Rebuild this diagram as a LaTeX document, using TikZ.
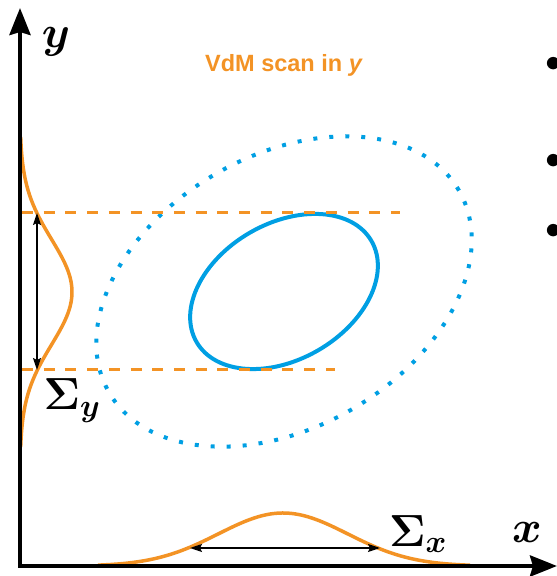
\RequirePackage{fix-cm}
\documentclass[tikz,border=0pt]{standalone}
\usepackage{fontspec}
\usepackage{bm}
\usepackage{tikz}
\usetikzlibrary{positioning,arrows.meta,calc}
\newfontfamily\vdmsans{Liberation Sans}
\definecolor{vdmOrange}{HTML}{F39325}
\definecolor{vdmBlue}{HTML}{009FE3}
\tikzset{
  vdm-axis/.style={
    line width=4pt, line join=miter,
    {Stealth[length=27pt,width=21pt,inset=3pt]}-{Stealth[length=27pt,width=21pt,inset=3pt]}
  },
  vdm-gauss/.style={draw=vdmOrange, line width=3.5pt},
  vdm-scan/.style={draw=vdmOrange, line width=3pt, dash pattern=on 11pt off 10.7pt},
  vdm-beam/.style={draw=vdmBlue, line width=4pt},
  vdm-halo/.style={draw=vdmBlue, line width=4pt, dash pattern=on 4pt off 12pt},
  vdm-width/.style={
    line width=1.6pt,
    {Stealth[length=12pt,width=8pt,inset=2pt]}-{Stealth[length=12pt,width=8pt,inset=2pt]}
  },
  vdm-math/.style={font=\fontsize{45}{54}\selectfont, inner sep=0pt},
  vdm-title/.style={font=\vdmsans\bfseries\fontsize{23.5}{28}\selectfont,
    text=vdmOrange, inner sep=0pt},
  vdm-bullet/.style={font=\fontsize{56}{64}\selectfont, inner sep=0pt}
}

\begin{document}
\begin{tikzpicture}[x=1pt, y=1pt]
\useasboundingbox (0,0) rectangle (557,576);
% --- Faisceau ---
\coordinate (beam) at (284,284.5);
\draw[vdm-halo, rotate around={30:(beam)}]
  (beam) ellipse [x radius=202pt, y radius=136pt];
\draw[vdm-beam, rotate around={30:(beam)}]
  (beam) ellipse [x radius=101pt, y radius=68pt];

% --- Scan ---
\coordinate (scan-top-l) at (22,363);
\coordinate (scan-top-r) at (400,363);
\coordinate (scan-bot-l) at (22,206);
\coordinate (scan-bot-r) at (335,206);
\draw[vdm-scan] (scan-top-l) -- (scan-top-r);
\draw[vdm-scan] (scan-bot-l) -- (scan-bot-r);
\node[vdm-title] (scan) at (284,511) {VdM scan in \textit{y}};

% --- Profils ---
\draw[vdm-gauss] plot[domain=-155:155, samples=120]
  ({20+52*exp(-0.5*(\x/52.7)^2)}, {284+\x});
\draw[vdm-gauss] plot[domain=-185:187, samples=120]
  ({283+\x}, {10+53*exp(-0.5*(\x/64.6)^2)});

% --- Largeurs ---
\coordinate (sy-top) at (37,363);
\coordinate (sy-bot) at (37,206);
\coordinate (sx-left) at (190,28);
\coordinate (sx-right) at (380,28);
\draw[vdm-width] (sy-top) -- (sy-bot);
\draw[vdm-width] (sx-left) -- (sx-right);
\node[vdm-math] (sigy) at (72,175) {$\bm{\Sigma_y}$};
\node[vdm-math] (sigx) at (418,42) {$\bm{\Sigma_x}$};

% --- Axes ---
\coordinate (origin) at (20,10);
\coordinate (ytip) at (20,568);
\coordinate (xtip) at (557,10);
\draw[vdm-axis] (ytip) -- (origin) -- (xtip);
\node[vdm-math] (ylab) at (56,534) {$\bm{y}$};
\node[vdm-math] (xlab) at (527,43) {$\bm{x}$};

% --- Puces ---
\foreach \yb [count=\i] in {508,411,341}
  \node[vdm-bullet] (bullet\i) at (554,\yb) {\textbullet};
\end{tikzpicture}
\end{document}
